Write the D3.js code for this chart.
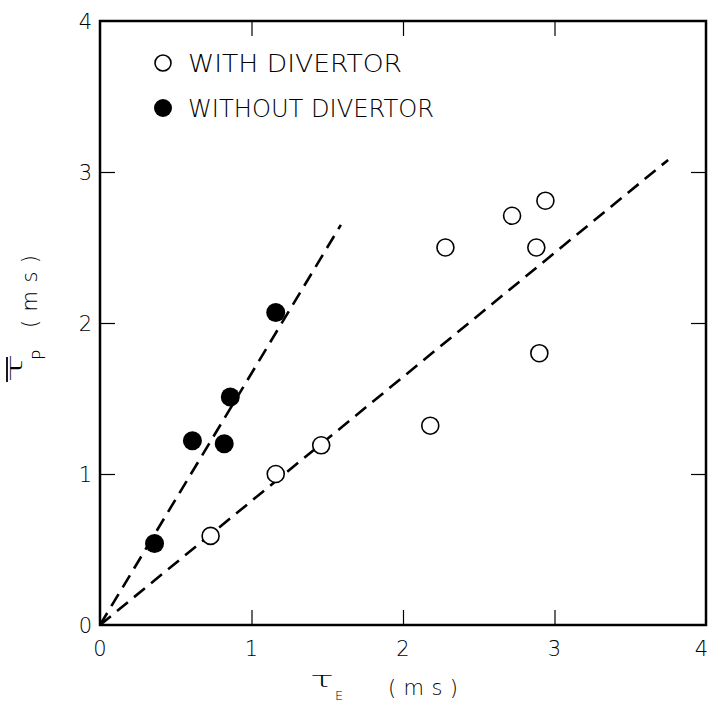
<!DOCTYPE html>
<html>
<head>
<meta charset="utf-8">
<script src="https://cdn.jsdelivr.net/npm/d3@7"></script>
<style>
  body { margin: 0; background: #fff; }
  svg text { font-family: "DejaVu Sans", sans-serif; font-weight: 200; fill: #000; }
</style>
</head>
<body>
<svg width="709" height="706"></svg>
<script>
// data (tau_E, tau_P in ms)
var withDivE = [0.73, 1.16, 1.46, 2.18, 2.28, 2.72, 2.88, 2.94, 2.90];
var withDivP = [0.59, 1.00, 1.19, 1.32, 2.50, 2.71, 2.50, 2.81, 1.80];
var withoutDivE = [0.36, 0.61, 0.82, 0.86, 1.16];
var withoutDivP = [0.54, 1.22, 1.20, 1.51, 2.07];
// dashed fit lines: from origin to end point
var fitWith = [[0, 0], [3.75, 3.08]];
var fitWithout = [[0, 0], [1.59, 2.65]];
var tickValues = [0, 1, 2, 3, 4];
var legendLabels = ['WITH DIVERTOR', 'WITHOUT DIVERTOR'];

var svg = d3.select('svg');
var plot = {l: 100, r: 706, t: 21, b: 625};
var tickLen = 15;

var x = d3.scaleLinear().domain([0, 4]).range([plot.l, plot.r]);
var y = d3.scaleLinear().domain([0, 4]).range([plot.b, plot.t]);

// inward ticks on all four sides
var inner = tickValues.slice(1, 4);
svg.append('g').attr('transform', 'translate(0,' + plot.b + ')')
    .call(d3.axisTop(x).tickValues(inner).tickSize(tickLen).tickFormat(''));
svg.append('g').attr('transform', 'translate(0,' + plot.t + ')')
    .call(d3.axisBottom(x).tickValues(inner).tickSize(tickLen).tickFormat(''));
svg.append('g').attr('transform', 'translate(' + plot.l + ',0)')
    .call(d3.axisRight(y).tickValues(inner).tickSize(tickLen).tickFormat(''));
svg.append('g').attr('transform', 'translate(' + plot.r + ',0)')
    .call(d3.axisLeft(y).tickValues(inner).tickSize(tickLen).tickFormat(''));
svg.selectAll('.domain').remove();
svg.selectAll('.tick line').attr('stroke', '#000').attr('stroke-width', 1.2);

// frame
svg.append('rect')
    .attr('x', plot.l).attr('y', plot.t)
    .attr('width', plot.r - plot.l).attr('height', plot.b - plot.t)
    .attr('fill', 'none').attr('stroke', '#000').attr('stroke-width', 2.5);

// tick labels (the last one is pulled in so it stays inside the picture)
svg.selectAll('.xlab').data(tickValues).enter().append('text')
    .attr('class', 'xlab')
    .attr('x', function(d) { return d === 4 ? 708 : x(d); })
    .attr('y', 656)
    .attr('text-anchor', function(d) { return d === 4 ? 'end' : 'middle'; })
    .style('font-size', '21px')
    .text(function(d) { return d; });

svg.selectAll('.ylab').data(tickValues).enter().append('text')
    .attr('class', 'ylab')
    .attr('x', 92)
    .attr('y', function(d) { return y(d) + 8; })
    .attr('text-anchor', 'end')
    .style('font-size', '21px')
    .text(function(d) { return d; });

// fit lines
var line = d3.line().x(function(d) { return x(d[0]); }).y(function(d) { return y(d[1]); });
[fitWith, fitWithout].forEach(function(f) {
    svg.append('path')
        .datum(f)
        .attr('d', line)
        .attr('fill', 'none')
        .attr('stroke', '#000')
        .attr('stroke-width', 2.6)
        .attr('stroke-dasharray', '14,8');
});

// points
svg.selectAll('.open').data(withDivE).enter().append('circle')
    .attr('class', 'open')
    .attr('cx', function(d) { return x(d); })
    .attr('cy', function(d, i) { return y(withDivP[i]); })
    .attr('r', 8.5)
    .attr('fill', '#fff').attr('stroke', '#000').attr('stroke-width', 1.6);

svg.selectAll('.filled').data(withoutDivE).enter().append('circle')
    .attr('class', 'filled')
    .attr('cx', function(d) { return x(d); })
    .attr('cy', function(d, i) { return y(withoutDivP[i]); })
    .attr('r', 9.5)
    .attr('fill', '#000');

// legend
var legend = svg.append('g');
legend.append('circle').attr('cx', 163).attr('cy', 63).attr('r', 8)
    .attr('fill', '#fff').attr('stroke', '#000').attr('stroke-width', 1.6);
legend.append('circle').attr('cx', 163).attr('cy', 108).attr('r', 9)
    .attr('fill', '#000');
legend.selectAll('text').data(legendLabels).enter().append('text')
    .attr('x', 188)
    .attr('y', function(d, i) { return 72 + i * 45; })
    .attr('textLength', function(d, i) { return i === 0 ? 214 : 246; })
    .attr('lengthAdjust', 'spacingAndGlyphs')
    .style('font-size', '24px')
    .text(function(d) { return d; });

// x axis label: tau_E (ms)
var xl = svg.append('g');
xl.append('text').attr('x', 310).attr('y', 687)
    .attr('textLength', 24).attr('lengthAdjust', 'spacingAndGlyphs')
    .style('font-size', '22px').text('τ');
xl.append('text').attr('x', 335).attr('y', 700)
    .style('font-size', '13px').text('E');
xl.append('text').attr('x', 388).attr('y', 695)
    .attr('textLength', 70).attr('lengthAdjust', 'spacing')
    .style('font-size', '21px').text('(ms)');

// y axis label: overbar tau_P (ms)
var yl = svg.append('g').attr('transform', 'translate(22,385) rotate(-90)');
yl.append('text').attr('x', 2).attr('y', 0)
    .attr('textLength', 30).attr('lengthAdjust', 'spacingAndGlyphs')
    .style('font-size', '22px').text('τ');
yl.append('line').attr('x1', 3).attr('x2', 28).attr('y1', -15).attr('y2', -15)
    .attr('stroke', '#000').attr('stroke-width', 1.8);
yl.append('text').attr('x', 25).attr('y', 23)
    .style('font-size', '17px').text('P');
yl.append('text').attr('x', 57).attr('y', 15)
    .attr('textLength', 73).attr('lengthAdjust', 'spacing')
    .style('font-size', '21px').text('(ms)');
</script>
</body>
</html>
